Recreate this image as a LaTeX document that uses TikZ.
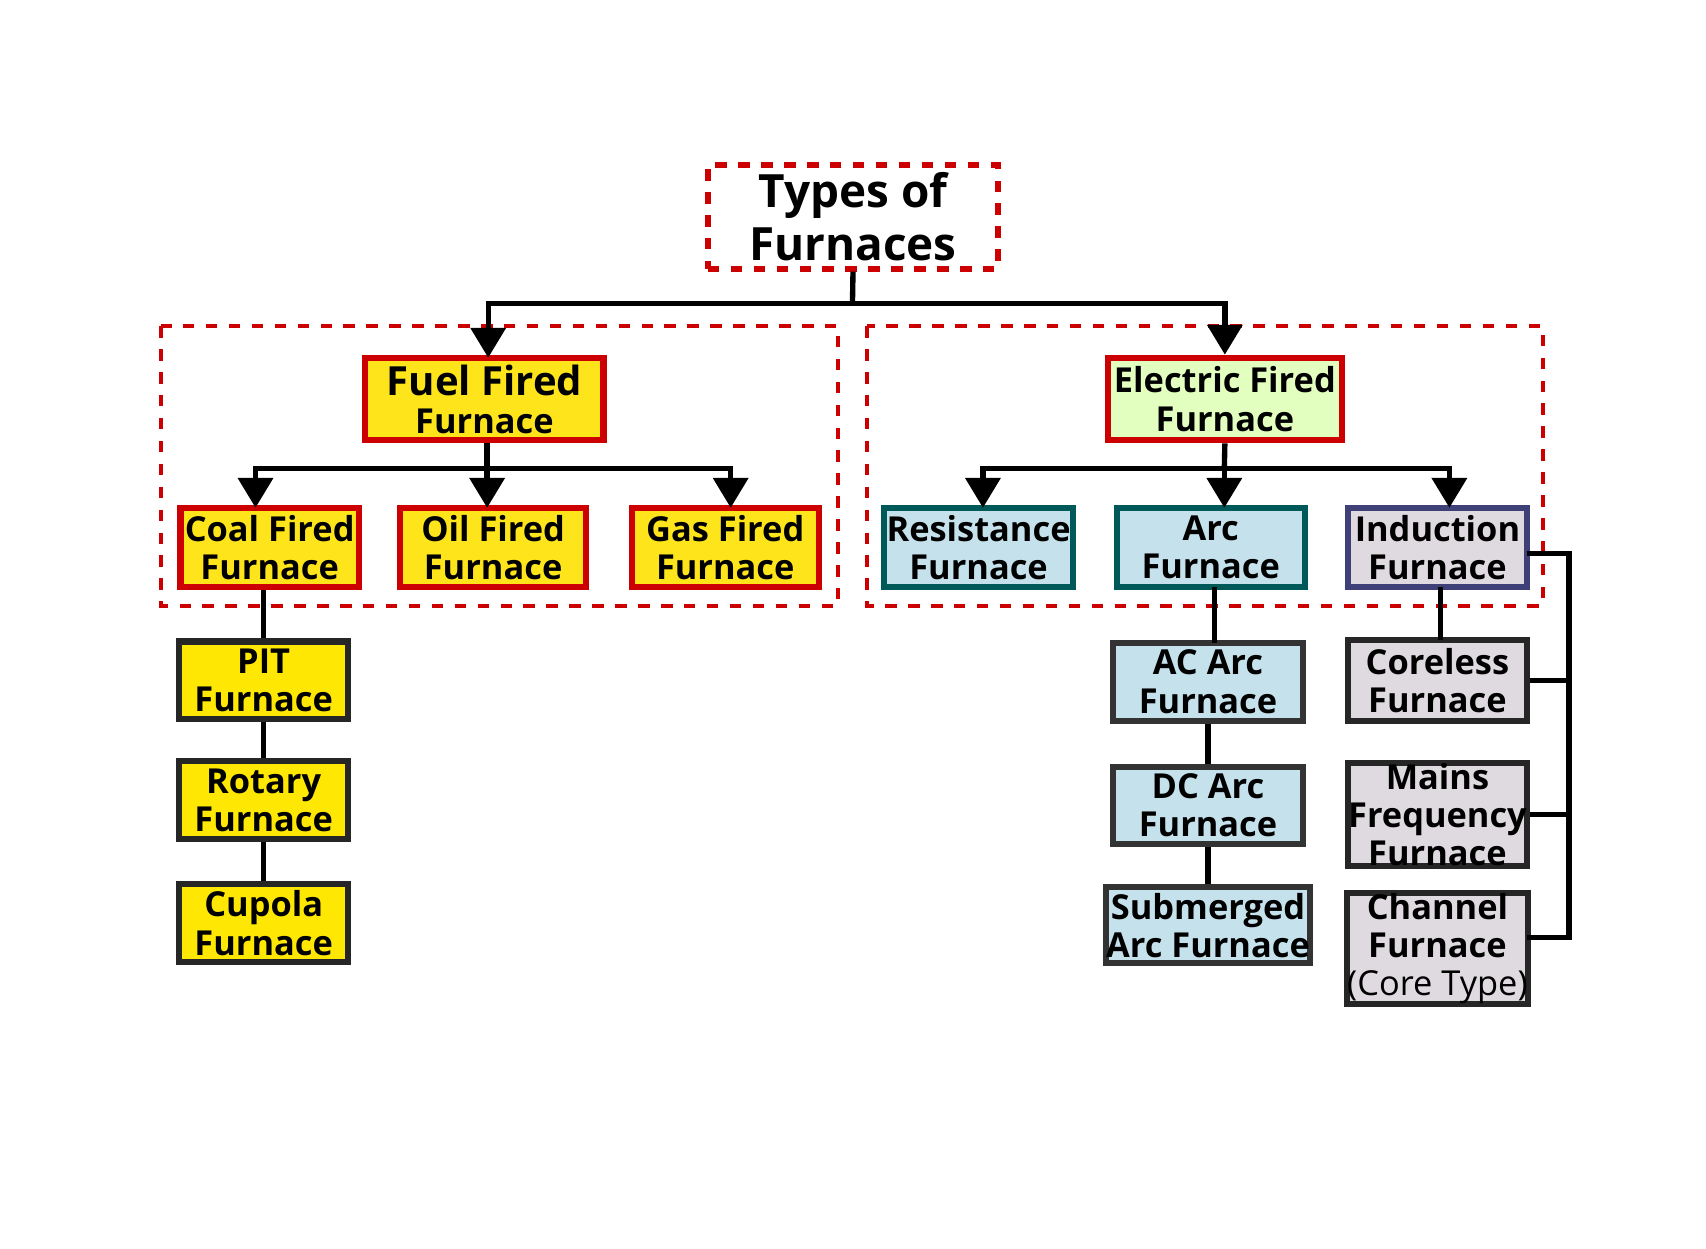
\documentclass[tikz,border=0pt]{standalone}
\usepackage{fontspec}
\setmainfont{Open Sans}
\usetikzlibrary{arrows.meta}
\tikzset{%
  tipA/.tip={Triangle[angle=60:9pt]},
  box/.style={draw, line width=1.6pt, font=\bfseries\fontsize{9}{10}\selectfont, align=center, inner sep=0pt},
  fuel/.style={box, fill=yellow!85!orange!90, draw=red!80!black},
  sub/.style={box, fill=yellow!90!orange, draw=black!85},
  elec/.style={box, fill=green!45!yellow!25, draw=red!80!black},
  cyanbox/.style={box, fill=cyan!40!teal!25, draw=teal!70!black},
  cyansub/.style={box, fill=cyan!40!teal!25, draw=black!80},
  lav/.style={box, fill=violet!15!gray!25, draw=blue!30!black!75},
  lavsub/.style={box, fill=violet!15!gray!25, draw=black!85},
  group/.style={draw=red!80!black, dashed, line width=1pt},
  link/.style={line width=1.4pt},
}
\newcommand{\furnbox}[7][box]{\node[#1, minimum width={(#4-#3)*0.1mm}, minimum height={(#6-#5)*0.1mm}] (#2) at ({(#3+#4)/2},{(#5+#6)/2}) {#7};}

\begin{document}
\begin{tikzpicture}[x=0.1mm, y=-0.1mm]
	\useasboundingbox (0,0) rectangle (1569,1148);
	\fill[white] (0,0) rectangle (1569,1148);
	% groups
	\draw[group] (148,300) rectangle (771,557);
	\draw[group] (797,300) rectangle (1419,557);
	% top
	\node[box, draw=red!80!black, dashed, minimum width=26.7mm, minimum height=9.5mm, font=\bfseries\fontsize{12}{14}\selectfont] (types) at (784.5,199.5) {Types of\\Furnaces};
	\furnbox[fuel]{fuelf}{336}{555}{329}{405}{\fontsize{10.5}{11.5}\selectfont Fuel Fired\\Furnace}
	\furnbox[elec]{elecf}{1019}{1234}{329}{405}{Electric Fired\\Furnace}
	% fuel fired
	\furnbox[fuel]{coal}{166}{330}{467}{540}{Coal Fired\\Furnace}
	\furnbox[fuel]{oil}{368}{539}{467}{540}{Oil Fired\\Furnace}
	\furnbox[fuel]{gas}{581}{753}{467}{540}{Gas Fired\\Furnace}
	\furnbox[sub]{pit}{165}{320}{590}{661}{PIT\\Furnace}
	\furnbox[sub]{rotary}{165}{320}{700}{772}{Rotary\\Furnace}
	\furnbox[sub]{cupola}{165}{320}{813}{885}{Cupola\\Furnace}
	% electric fired
	\furnbox[cyanbox]{resist}{813}{987}{467}{540}{Resistance\\Furnace}
	\furnbox[cyanbox]{arc}{1027}{1200}{467}{540}{Arc\\Furnace}
	\furnbox[lav]{induct}{1240}{1404}{467}{540}{Induction\\Furnace}
	\furnbox[cyansub]{acarc}{1024}{1198}{591}{663}{AC Arc\\Furnace}
	\furnbox[cyansub]{dcarc}{1024}{1198}{705}{776}{DC Arc\\Furnace}
	\furnbox[cyansub]{subarc}{1024}{1198}{816}{886}{Submerged\\Arc Furnace}
	\furnbox[lavsub]{coreless}{1240}{1404}{589}{663}{Coreless\\Furnace}
	\furnbox[lavsub]{mains}{1240}{1404}{702}{796}{Mains\\Frequency\\Furnace}
	\furnbox[lavsub]{channel}{1240}{1404}{823}{922}{Channel\\Furnace\\{\mdseries(Core Type)}}
	% connectors
	\coordinate (topbus) at (784,279);
	\coordinate (fuelbus) at (448,431);
	\coordinate (elecbus) at (1126,431);
	\draw[link] (types.south) -- (topbus);
	\draw[link, -{tipA}] (topbus) -| (449,329);
	\draw[link, -{tipA}] (topbus) -| (elecf.north);
	\draw[link] (fuelf.south -| fuelbus) -- (fuelbus);
	\draw[link, -{tipA}] (fuelbus) -| (235,467);
	\draw[link, -{tipA}] (fuelbus) -- (448,467);
	\draw[link, -{tipA}] (fuelbus) -| (672,467);
	\draw[link] (elecf.south) -- (elecbus);
	\draw[link, -{tipA}] (elecbus) -| (904,467);
	\draw[link, -{tipA}] (elecbus) -- (1126,467);
	\draw[link, -{tipA}] (elecbus) -| (1333,467);
	\draw[link] (pit.north) -- (pit.north |- coal.south);
	\draw[link] (pit.south) -- (rotary.north);
	\draw[link] (rotary.south) -- (cupola.north);
	\draw[link] (1117,540) -- (1117,591);
	\draw[link] (acarc.south) -- (dcarc.north);
	\draw[link] (dcarc.south) -- (subarc.north);
	\draw[link] (1325,540) -- (1325,589);
	\draw[link] (1404,509) -- (1443,509) -- (1443,862) -- (1404,862);
	\draw[link] (coreless.east) -- (1443,626);
	\draw[link] (mains.east) -- (1443,749);
\end{tikzpicture}
\end{document}
